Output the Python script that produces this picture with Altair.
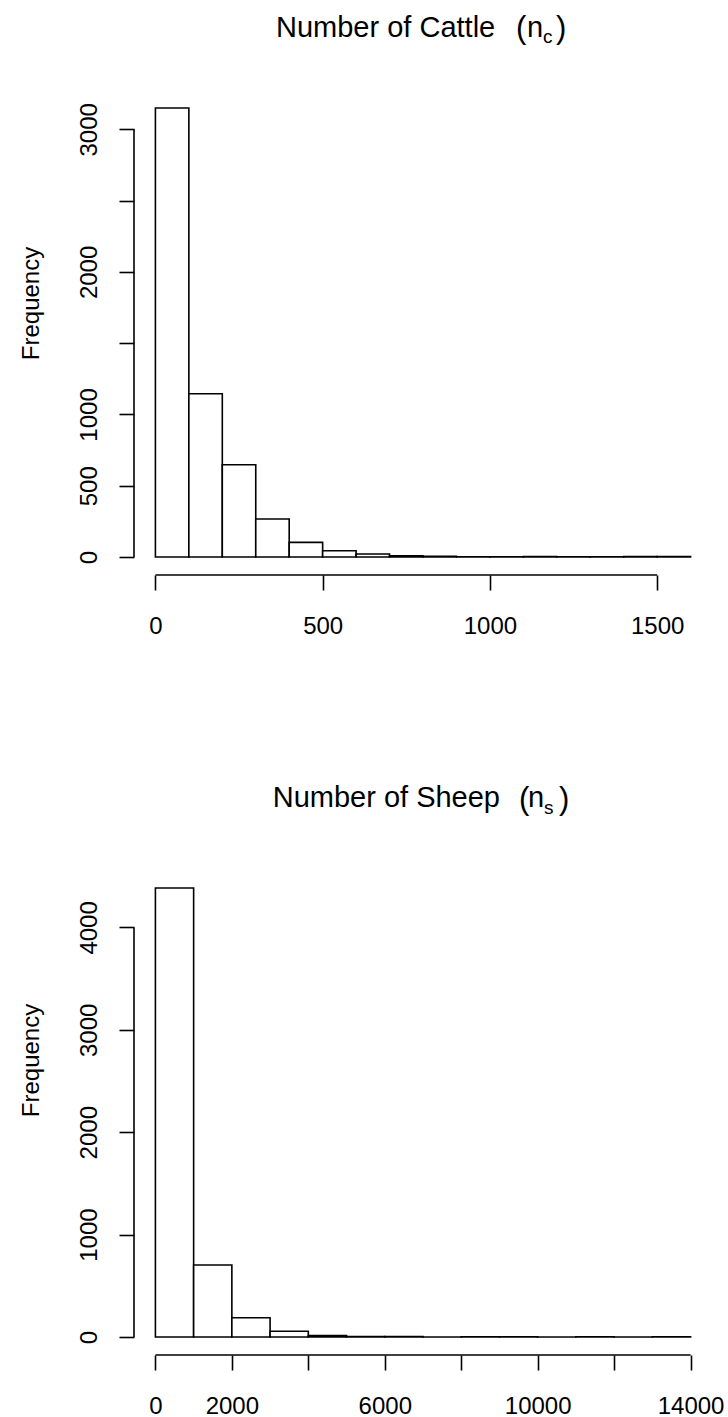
import altair as alt
import pandas as pd

# Histogram of herd sizes: cattle (bins of 100 head)
cattle_bin_lo = [0, 100, 200, 300, 400, 500, 600, 700, 800, 900, 1000, 1100, 1200, 1300, 1400, 1500]
cattle_bin_hi = [100, 200, 300, 400, 500, 600, 700, 800, 900, 1000, 1100, 1200, 1300, 1400, 1500, 1600]
cattle_counts = [3150, 1145, 647, 267, 103, 44, 21, 9, 5, 1, 1, 3, 1, 1, 3, 3]

# Histogram of flock sizes: sheep (bins of 1000 head)
sheep_bin_lo = [0, 1000, 2000, 3000, 4000, 5000, 6000, 7000, 8000, 9000, 10000, 11000, 12000, 13000]
sheep_bin_hi = [1000, 2000, 3000, 4000, 5000, 6000, 7000, 8000, 9000, 10000, 11000, 12000, 13000, 14000]
sheep_counts = [4385, 703, 188, 57, 15, 4, 5, 1, 3, 3, 1, 3, 1, 3]

# Axis ticks; labels that would crowd their neighbours are left blank
cattle_x_ticks = [0, 500, 1000, 1500]
cattle_y_ticks = [0, 500, 1000, 1500, 2000, 2500, 3000]
cattle_y_unlabelled = [1500, 2500]
sheep_x_ticks = [0, 2000, 4000, 6000, 8000, 10000, 12000, 14000]
sheep_x_unlabelled = [4000, 8000, 12000]
sheep_y_ticks = [0, 1000, 2000, 3000, 4000]

FONT = "Liberation Sans"
W, H = 578, 485
LW = 1.6


def hide_expr(values):
    if not values:
        return "datum.label"
    cond = " || ".join(f"datum.value == {v}" for v in values)
    return f"({cond}) ? '' : datum.label"


def padded(lo, hi):
    # 4% expansion on each side of the data range
    d = (hi - lo) * 0.04
    return [lo - d, hi + d]


def panel(lo, hi, counts, x_ticks, x_hidden, y_ticks, y_hidden, title_parts, ylab_y):
    df = pd.DataFrame({"lo": lo, "hi": hi, "count": counts})
    x_scale = alt.Scale(domain=padded(min(lo), max(hi)), nice=False, zero=False)
    y_scale = alt.Scale(domain=padded(0, max(counts)), nice=False, zero=False)

    x_axis = alt.Axis(
        values=x_ticks, title=None, domain=False, grid=False, format="d",
        ticks=True, tickSize=15, tickWidth=LW, tickColor="black",
        labelFont=FONT, labelFontSize=24, labelColor="black",
        labelPadding=24, labelBaseline="top", labelFlush=False,
        labelOverlap=False, labelExpr=hide_expr(x_hidden),
    )
    y_axis = alt.Axis(
        values=y_ticks, title="Frequency", domain=False, grid=False, format="d",
        ticks=True, tickSize=15, tickWidth=LW, tickColor="black",
        labelFont=FONT, labelFontSize=24, labelColor="black",
        labelAngle=270, labelAlign="center", labelBaseline="alphabetic",
        labelPadding=23, labelOverlap=False, labelFlush=False,
        labelExpr=hide_expr(y_hidden),
        titleFont=FONT, titleFontSize=24, titleFontWeight="normal",
        titleColor="black", titleAngle=270, titleAlign="center",
        titleBaseline="alphabetic", titleX=-96, titleY=ylab_y,
    )

    bars = alt.Chart(df).mark_rect(
        fill="white", stroke="black", strokeWidth=LW
    ).encode(
        x=alt.X("lo:Q", scale=x_scale, axis=x_axis),
        x2="hi:Q",
        y=alt.Y("count:Q", scale=y_scale, axis=y_axis),
        y2=alt.datum(0),
    )

    # axis lines spanning only the tick range
    x_line = alt.Chart(
        pd.DataFrame({"a": [x_ticks[0]], "b": [x_ticks[-1]]})
    ).mark_rule(color="black", strokeWidth=LW).encode(
        x=alt.X("a:Q", scale=x_scale, axis=x_axis), x2="b:Q", y=alt.value(H)
    )
    y_line = alt.Chart(
        pd.DataFrame({"a": [y_ticks[0]], "b": [y_ticks[-1]]})
    ).mark_rule(color="black", strokeWidth=LW).encode(
        y=alt.Y("a:Q", scale=y_scale, axis=y_axis), y2="b:Q", x=alt.value(0)
    )

    layers = [bars, x_line, y_line]
    for text, px, py, size in title_parts:
        layers.append(
            alt.Chart(pd.DataFrame({"t": [text]})).mark_text(
                font=FONT, fontSize=size, color="black",
                align="left", baseline="alphabetic",
            ).encode(text="t:N", x=alt.value(px), y=alt.value(py))
        )
    return alt.layer(*layers).properties(width=W, height=H)


cattle_title = [
    ("Number of Cattle", 142, -53.5, 29),
    ("(", 382, -52, 31),
    ("n", 393, -53.5, 29),
    ("c", 409, -47, 19),
    (")", 422, -52, 31),
]
sheep_title = [
    ("Number of Sheep", 138.7, -62.8, 29),
    ("(", 385, -61, 31),
    ("n", 394, -62.8, 29),
    ("s", 410, -56, 19),
    (")", 425, -61, 31),
]

top = panel(cattle_bin_lo, cattle_bin_hi, cattle_counts,
            cattle_x_ticks, [], cattle_y_ticks, cattle_y_unlabelled,
            cattle_title, 213)
bottom = panel(sheep_bin_lo, sheep_bin_hi, sheep_counts,
               sheep_x_ticks, sheep_x_unlabelled, sheep_y_ticks, [],
               sheep_title, 190)

chart = alt.vconcat(top, bottom, spacing=295, bounds="flush").properties(
    padding={"left": 19, "top": 13, "right": 0, "bottom": 0},
    background="white",
).configure_view(stroke=None)

chart.save("out.html", embed_options={"renderer": "svg", "actions": False})
